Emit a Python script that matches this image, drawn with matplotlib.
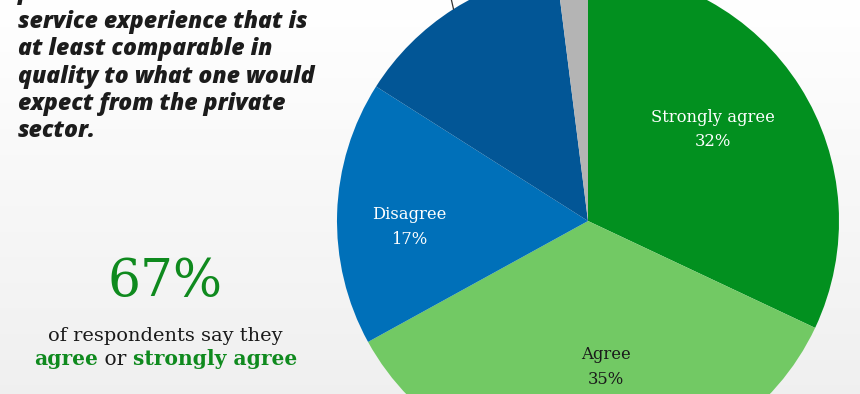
import numpy as np
import matplotlib
matplotlib.use("Agg")
import matplotlib.pyplot as plt

# ---- data ----
categories = ["Strongly agree", "Agree", "Disagree", "Strongly disagree", "Don't know"]
values = [32, 35, 17, 14, 2]
show_label = [True, True, True, False, False]
colors = ["#02901f", "#72c964", "#0070b9", "#025696", "#b4b4b4"]
label_colors = ["white", "#1a1a1a", "white", "white", "white"]
label_dist = [0.617, 0.586, 0.713, 0.6, 0.6]
label_rot = [-3.7, -5.2, -3.7, 0, 0]   # degrees, clockwise offset from wedge middle

headline_lines = ["provides a customer", "service experience that is",
                  "at least comparable in", "quality to what one would",
                  "expect from the private", "sector."]
big_stat = "67%"

W, H = 860, 394
fig = plt.figure(figsize=(W / 100, H / 100), dpi=100)
ax = fig.add_axes([0, 0, 1, 1])

# background gradient (white at top, light grey at bottom)
grad = np.linspace(1.0, 0.94, 200).reshape(-1, 1)
grad = np.repeat(grad, 2, axis=1)
ax.imshow(np.dstack([grad, grad, grad]), extent=[0, W, 0, H], aspect="auto",
          zorder=0, interpolation="bicubic", origin="upper")

cx, cy, r = 588, H - 221, 251
wedges, _ = ax.pie(values, colors=colors, startangle=90, counterclock=False,
                   center=(cx, cy), radius=r, frame=True,
                   wedgeprops=dict(linewidth=0, zorder=2))
ax.set_xlim(0, W)
ax.set_ylim(0, H)
ax.set_aspect("equal")
ax.axis("off")

fig.canvas.draw()
rend = fig.canvas.get_renderer()


def fit(t, target_w):
    fs = t.get_fontsize()
    w = t.get_window_extent(rend).width
    t.set_fontsize(fs * target_w / w)
    return t


serif = ["DejaVu Serif"]
for w, cat, v, show, lc, ld, lr in zip(wedges, categories, values, show_label,
                                        label_colors, label_dist, label_rot):
    mid = np.deg2rad((w.theta1 + w.theta2) / 2)
    if show:
        ang = mid - np.deg2rad(lr)
        x = cx + ld * r * np.cos(ang)
        y = cy + ld * r * np.sin(ang)
        ax.text(x, y, f"{cat}\n{v}%", color=lc, ha="center", va="center",
                fontsize=11.8, family=serif, linespacing=1.55, zorder=5)
    if cat == "Strongly disagree":
        x0, y0 = cx + r * np.cos(mid), cy + r * np.sin(mid)
        x1, y1 = cx + 1.06 * r * np.cos(mid - 0.02), cy + 1.06 * r * np.sin(mid - 0.02)
        ax.plot([x0, x1], [y0, y1], color="#333333", lw=0.9, zorder=4)

# headline text
hfont = dict(family="Open Sans", weight=800, style="italic", color="#1c1c1c")
probe = ax.text(0, -100, headline_lines[1], fontsize=17, **hfont)
fig.canvas.draw()
fit(probe, 289)
hfs = probe.get_fontsize()
probe.remove()
baselines = [-1.5, 28, 55.3, 82.6, 109.9, 137.2]
for line, b in zip(headline_lines, baselines):
    ax.text(18, H - b, line, ha="left", va="baseline", fontsize=hfs, **hfont)

green = "#0f8a1e"
t67 = ax.text(165, H - 296, big_stat, ha="center", va="baseline", fontsize=40,
              family=serif, color=green)
tof = ax.text(165, H - 341, "of respondents say they", ha="center", va="baseline",
              fontsize=14.5, family=serif, color="#1a1a1a")
fig.canvas.draw()
fit(t67, 115)
fit(tof, 234)

# mixed line, centred
fs2 = 14.0
t1 = ax.text(0, H - 365, "agree", ha="left", va="baseline", fontsize=fs2,
             family=serif, weight="bold", color=green)
t2 = ax.annotate(" or ", xy=(1, 0), xycoords=t1, va="bottom", ha="left",
                 fontsize=fs2, family=serif, color="#1a1a1a")
t3 = ax.annotate("strongly agree", xy=(1, 0), xycoords=t2, va="bottom", ha="left",
                 fontsize=fs2, family=serif, weight="bold", color=green)
fig.canvas.draw()
total = sum(t.get_window_extent(rend).width for t in (t1, t2, t3))
scale = 262 / total
for t in (t1, t2, t3):
    t.set_fontsize(fs2 * scale)
fig.canvas.draw()
total = sum(t.get_window_extent(rend).width for t in (t1, t2, t3))
t1.set_x(166 - total / 2)

fig.savefig("out.png", dpi=100)
